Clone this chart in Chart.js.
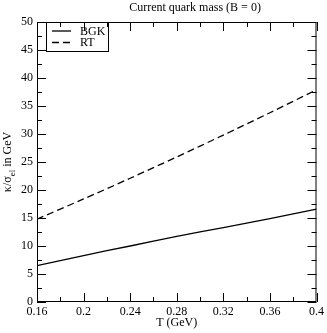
<!DOCTYPE html>
<html>
<head>
<meta charset="utf-8">
<script src="https://cdn.jsdelivr.net/npm/chart.js@4"></script>
<style>
  html, body { margin: 0; padding: 0; background: #fff; }
  #wrap { width: 327px; height: 333px; }
</style>
</head>
<body>
<div id="wrap"><canvas id="chart"></canvas></div>
<script>
// Data
const temps = [0.16, 0.2, 0.24, 0.28, 0.32, 0.36, 0.4];
const bgk = [6.5, 8.3, 10.0, 11.7, 13.3, 14.9, 16.6];
const rt = [14.8, 18.4, 22.1, 25.9, 29.8, 33.8, 37.9];
const xTicks = [0.16, 0.2, 0.24, 0.28, 0.32, 0.36, 0.4];
const yTicks = [0, 5, 10, 15, 20, 25, 30, 35, 40, 45, 50];

const titleText = 'Current quark mass (B = 0)';
const FONT = '"Liberation Serif", "Times New Roman", serif';

const midpoints = arr => arr.slice(1).map((v, i) => (v + arr[i]) / 2);

// Inward ticks on all four sides, frame, titles and in-plot legend
const decorations = {
  id: 'decorations',
  afterDraw(chart) {
    const { ctx, chartArea: a, scales: { x, y } } = chart;
    ctx.save();
    ctx.strokeStyle = '#000';
    ctx.lineWidth = 1;

    // frame
    ctx.strokeRect(a.left + 0.5, a.top + 0.5, a.right - a.left - 1, a.bottom - a.top - 1);

    const tick = (px, len, vertical) => {
      ctx.beginPath();
      if (vertical) {
        const p = Math.round(px) + 0.5;
        ctx.moveTo(p, a.bottom); ctx.lineTo(p, a.bottom - len);
        ctx.moveTo(p, a.top); ctx.lineTo(p, a.top + len);
      } else {
        const p = Math.round(px) + 0.5;
        ctx.moveTo(a.left, p); ctx.lineTo(a.left + len, p);
        ctx.moveTo(a.right, p); ctx.lineTo(a.right - len, p);
      }
      ctx.stroke();
    };
    xTicks.forEach(v => tick(x.getPixelForValue(v), 9, true));
    midpoints(xTicks).forEach(v => tick(x.getPixelForValue(v), 5, true));
    yTicks.forEach(v => tick(y.getPixelForValue(v), 9, false));
    midpoints(yTicks).forEach(v => tick(y.getPixelForValue(v), 5, false));

    ctx.fillStyle = '#000';

    // chart title
    ctx.font = '12px ' + FONT;
    ctx.textAlign = 'center';
    ctx.textBaseline = 'middle';
    ctx.fillText(titleText, 195, 8);

    // y axis title with subscript
    ctx.save();
    ctx.translate(7.5, (a.top + a.bottom) / 2);
    ctx.rotate(-Math.PI / 2);
    ctx.textAlign = 'left';
    const main = 'κ/σ', sub = 'el', rest = ' in GeV';
    ctx.font = '12px ' + FONT;
    const w1 = ctx.measureText(main).width;
    const w3 = ctx.measureText(rest).width;
    ctx.font = '9px ' + FONT;
    const w2 = ctx.measureText(sub).width;
    let sx = -(w1 + w2 + w3) / 2;
    ctx.font = '12px ' + FONT;
    ctx.fillText(main, sx, 0);
    ctx.font = '9px ' + FONT;
    ctx.fillText(sub, sx + w1, 5);
    ctx.font = '12px ' + FONT;
    ctx.fillText(rest, sx + w1 + w2, 0);
    ctx.restore();

    // legend box
    const lx = a.left + 9, ly = a.top, lw = 62, lh = 29;
    ctx.strokeRect(lx + 0.5, ly + 0.5, lw, lh);
    chart.data.datasets.forEach((ds, i) => {
      const yy = ly + 9 + i * 11.5;
      ctx.save();
      ctx.lineWidth = ds.borderWidth;
      ctx.setLineDash(ds.borderDash || []);
      ctx.beginPath();
      ctx.moveTo(lx + 6, yy);
      ctx.lineTo(lx + 25, yy);
      ctx.stroke();
      ctx.restore();
      ctx.font = '12px ' + FONT;
      ctx.textAlign = 'left';
      ctx.textBaseline = 'middle';
      ctx.fillText(ds.label, lx + 34, yy + 0.5);
    });
    ctx.restore();
  }
};

new Chart(document.getElementById('chart'), {
  type: 'line',
  data: {
    datasets: [
      {
        label: 'BGK',
        data: temps.map((t, i) => ({ x: t, y: bgk[i] })),
        borderColor: '#000',
        borderWidth: 1.3,
        pointRadius: 0,
        tension: 0.3
      },
      {
        label: 'RT',
        data: temps.map((t, i) => ({ x: t, y: rt[i] })),
        borderColor: '#000',
        borderWidth: 1.3,
        borderDash: [7, 4],
        pointRadius: 0,
        tension: 0.3
      }
    ]
  },
  options: {
    responsive: true,
    maintainAspectRatio: false,
    animation: false,
    layout: { padding: { top: 22, right: 10, left: 0, bottom: 0 } },
    plugins: {
      legend: { display: false },
      tooltip: { enabled: false }
    },
    scales: {
      x: {
        type: 'linear',
        min: 0.16,
        max: 0.4,
        afterBuildTicks: scale => { scale.ticks = xTicks.map(v => ({ value: v })); },
        afterFit: scale => { scale.height = 31; },
        grid: { display: false, drawTicks: false },
        border: { display: false },
        ticks: {
          color: '#000',
          padding: 3,
          maxRotation: 0,
          font: { family: FONT, size: 12 },
          callback: v => String(+Number(v).toFixed(2))
        },
        title: {
          display: true,
          text: 'T (GeV)',
          color: '#000',
          padding: { top: 0, bottom: 3 },
          font: { family: FONT, size: 12 }
        }
      },
      y: {
        min: 0,
        max: 50,
        afterBuildTicks: scale => { scale.ticks = yTicks.map(v => ({ value: v })); },
        afterFit: scale => { scale.width = 37; },
        grid: { display: false, drawTicks: false },
        border: { display: false },
        ticks: {
          color: '#000',
          padding: 4,
          font: { family: FONT, size: 12 }
        }
      }
    }
  },
  plugins: [decorations]
});
</script>
</body>
</html>
